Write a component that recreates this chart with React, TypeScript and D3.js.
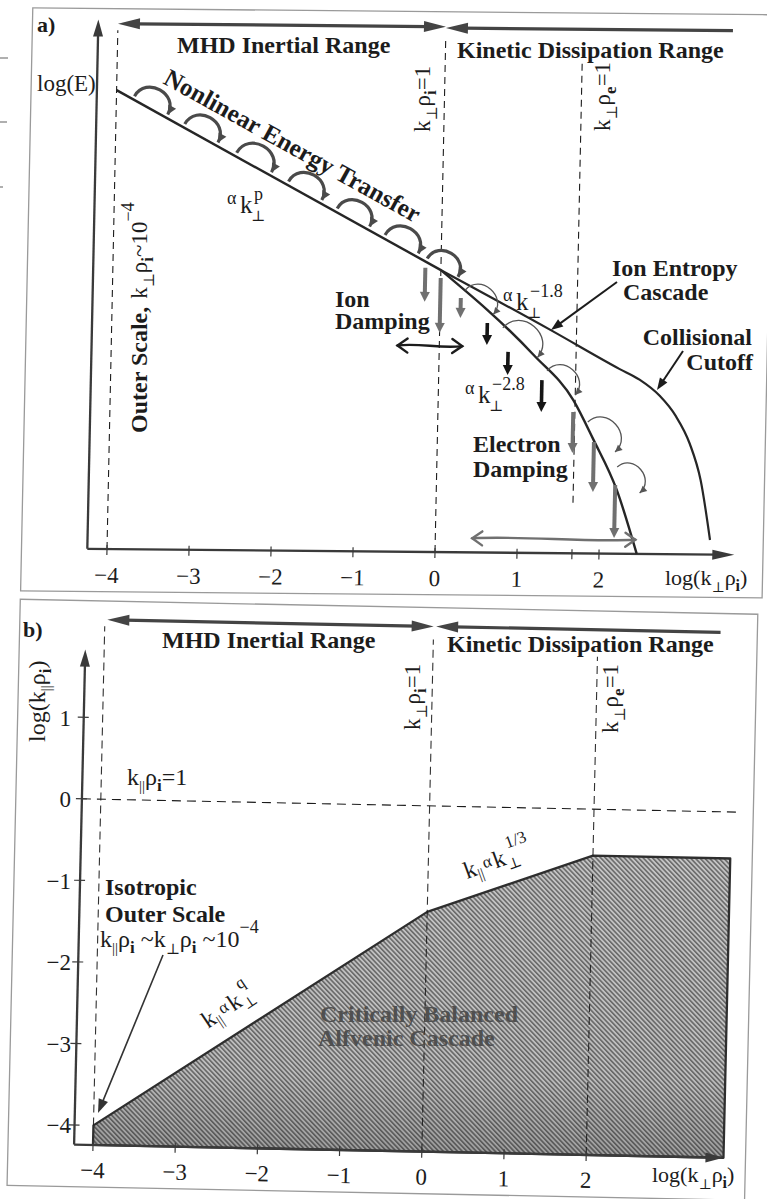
import React from 'react'
import * as d3 from 'd3'

const FONT = '"Liberation Serif", "Times New Roman", "DejaVu Serif", serif'
const INK = '#1c1c1c'
const GREY = '#707070'

// ---------- panel a) energy spectrum: x = log(k⊥ρi), y = log E (arbitrary units above the axis)
const aTicks = [-4, -3, -2, -1, 0, 1, 2]
const aExtraTicks = [1.67]
const aOrigin = [-4.24, 0]
const aAxisEnd = [3.65, 19.9]
const inertialRange = [[-4, 17.25], [0, 10.6]]
const ionEntropyCascade = [
  [0, 10.6], [1.35, 8.39], [2.2, 6.95], [2.45, 6.55], [2.7, 5.95],
  [2.9, 5.2], [3.08, 4.15], [3.22, 2.8], [3.35, 0.55],
]
const electronCascade = [[0, 10.6], [1.15, 7.45], [1.65, 5.75], [1.9, 4.3], [2.2, 2.4], [2.46, 0]]
// curly "nonlinear transfer" arrows: [x0, y0, x1, y1]
const transferArcs = [
  [-3.78, 17.03, -3.37, 16.35],
  [-3.16, 16.0, -2.75, 15.32],
  [-2.52, 14.94, -2.09, 14.22],
  [-1.88, 13.88, -1.47, 13.19],
  [-1.28, 12.88, -0.88, 12.21],
  [-0.69, 11.9, -0.28, 11.22],
  [-0.17, 11.03, 0.21, 10.35],
]
const electronArcs = [
  [0.3, 9.85, 0.65, 8.95],
  [0.77, 8.45, 1.2, 7.35],
  [1.32, 6.85, 1.67, 5.95],
  [1.83, 4.94, 2.17, 3.82],
  [2.2, 3.26, 2.48, 2.29],
]
// damping arrows: [x, yTop, yBottom]
const ionDamping = [[-0.19, 10.68, 9.4], [0, 10.3, 8.24], [0.25, 9.56, 8.81]]
const cascadeLoss = [[0.58, 8.63, 7.8], [0.84, 7.55, 6.68], [1.26, 6.5, 5.3]]
const electronDamping = [[1.65, 5.31, 3.77], [1.91, 4.19, 2.31], [2.18, 2.58, 0.59]]
// dashed scale markers: [x, yFrom, yTo]
const aScaleLines = [[-4, 0, 19.5], [0, 0, 19.4], [1.67, 1.9, 18.55]]
// range arrows: [x0, x1, y, headLeft, headRight]
const aRanges = [[-4, 0, 19.75, true, true], [0, 3.5, 19.7, true, false]]
// horizontal spread arrows: [x0, x1, y, colour]
const aSpreads = [[-0.51, 0.28, 7.75, INK], [0.45, 2.44, 0.53, GREY]]

// ---------- panel b) wavevector anisotropy: x = log(k⊥ρi), y = log(k∥ρi)
const bTicksX = [-4, -3, -2, -1, 0, 1, 2]
const bTicksY = [-4, -3, -2, -1, 0, 1]
const bOrigin = [-4.23, -4.24]
const bAxisEnd = [3.67, 1.83]
const cascadeEdge = [[-4, -4], [0, -1.3], [2, -0.57], [3.67, -0.57]]
const bScaleLines = [[-4, -4, 2.12], [0, -4.24, 2.04], [2, -4.24, 1.87]]
const bIsoLine = [-4.23, 3.74, 0]
const bRanges = [[-3.97, 0, 2.2, true, true], [0.03, 3.49, 2.2, true, false]]

const aSkew = 'matrix(1, 0.0093, -0.0209, 1, 11.47, -0.995)'
const bSkew = 'matrix(1, 0.0203, -0.0226, 1, 25.88, -1.888)'

const minus = (t: number) => String(t).replace('-', '\u2212')

function Head({ x, y, ux, uy, len, hw, fill }: any) {
  const bx = x - ux * len
  const by = y - uy * len
  return <polygon points={`${x},${y} ${bx - uy * hw},${by + ux * hw} ${bx + uy * hw},${by - ux * hw}`} fill={fill} />
}

function Arrow({ x1, y1, x2, y2, len = 10, hw = 5, color = INK, width = 2, start = false, end = true }: any) {
  const L = Math.hypot(x2 - x1, y2 - y1)
  const ux = (x2 - x1) / L
  const uy = (y2 - y1) / L
  const s = start ? len * 0.8 : 0
  const e = end ? len * 0.8 : 0
  return (
    <g>
      <line x1={x1 + ux * s} y1={y1 + uy * s} x2={x2 - ux * e} y2={y2 - uy * e} stroke={color} strokeWidth={width} />
      {end && <Head x={x2} y={y2} ux={ux} uy={uy} len={len} hw={hw} fill={color} />}
      {start && <Head x={x1} y={y1} ux={-ux} uy={-uy} len={len} hw={hw} fill={color} />}
    </g>
  )
}

function CurlArrow({ x1, y1, x2, y2, color, width, len, hw }: any) {
  const dx = x2 - x1
  const dy = y2 - y1
  const L = Math.hypot(dx, dy)
  const nx = dy / L
  const ny = -dx / L
  const h = 0.62 * L
  const d = `M${x1},${y1} C${x1 + nx * h},${y1 + ny * h} ${x2 + nx * h},${y2 + ny * h} ${x2},${y2}`
  return (
    <g>
      <path d={d} fill="none" stroke={color} strokeWidth={width} />
      <Head x={x2} y={y2} ux={-nx} uy={-ny} len={len} hw={hw} fill={color} />
    </g>
  )
}

function Spread({ x1, x2, y, color }: any) {
  const w = x2 - x1
  const chev = (x: number, dir: number) => `M${x + dir * 10},${y - 7} L${x},${y} L${x + dir * 10},${y + 7}`
  return (
    <g fill="none" stroke={color} strokeWidth={2.4} strokeLinecap="round">
      <path d={`M${x1},${y} C${x1 + w / 3},${y - 3} ${x1 + (2 * w) / 3},${y + 3} ${x2},${y}`} />
      <path d={chev(x1, 1)} />
      <path d={chev(x2, -1)} />
    </g>
  )
}

function PowerLaw({ x, y, exp }: any) {
  return (
    <g fontFamily={FONT} fill={INK}>
      <text x={x} y={y - 9} fontSize={18}>α</text>
      <text x={x + 13} y={y} fontSize={25}>k</text>
      <text x={x + 24} y={y + 8} fontSize={15}>⊥</text>
      <text x={x + 27} y={y - 13} fontSize={18}>{exp}</text>
    </g>
  )
}

// k⊥ρ_s = 1 written vertically
function ScaleLabel({ x, y, s }: any) {
  return (
    <text transform={`translate(${x},${y}) rotate(-90)`} fontFamily={FONT} fontSize={23} fill={INK}>
      k<tspan dy={7} fontSize={15}>⊥</tspan>
      <tspan dy={-7}>ρ</tspan>
      <tspan dy={6} fontSize={17} fontWeight="bold">{s}</tspan>
      <tspan dy={-6}>=1</tspan>
    </text>
  )
}

function KLabel({ x, y, size = 22 }: any) {
  return (
    <text x={x} y={y} fontFamily={FONT} fontSize={size} fill={INK}>
      log(k<tspan dy={7} fontSize={14}>⊥</tspan>
      <tspan dy={-7}>ρ</tspan>
      <tspan dy={6} fontSize={16} fontWeight="bold">i</tspan>
      <tspan dy={-6}>)</tspan>
    </text>
  )
}

function Anisotropy({ x, y, angle, exp }: any) {
  return (
    <text transform={`translate(${x},${y}) rotate(${angle})`} fontFamily={FONT} fontSize={24} fill={INK}>
      k<tspan dy={5} fontSize={15}>||</tspan>
      <tspan dx={2} dy={-9} fontSize={17}>α</tspan>
      <tspan dx={2} dy={4}>k</tspan>
      <tspan dy={6} fontSize={15}>⊥</tspan>
      <tspan dx={-9} dy={-21} fontSize={17}>{exp}</tspan>
    </text>
  )
}

export default function App() {
  const xA = d3.scaleLinear().domain([-4, 2]).range([107, 599])
  const yA = d3.scaleLinear().domain([0, 20]).range([549, 17])
  const xB = d3.scaleLinear().domain([-4, 2]).range([93, 586.2])
  const yB = d3.scaleLinear().domain([-4, 1]).range([1125.4, 717.65])

  const lineA = d3.line<number[]>().x(d => xA(d[0])).y(d => yA(d[1]))
  const curveA = d3.line<number[]>().x(d => xA(d[0])).y(d => yA(d[1])).curve(d3.curveMonotoneX)
  const lineB = d3.line<number[]>().x(d => xB(d[0])).y(d => yB(d[1]))
  const region = [...cascadeEdge, [cascadeEdge[cascadeEdge.length - 1][0], bOrigin[1]], [cascadeEdge[0][0], bOrigin[1]]]

  const bold = { fontFamily: FONT, fontWeight: 'bold' as const, fontSize: 24, fill: INK }

  return (
    <svg width={767} height={1199} style={{ position: 'absolute', left: 0, top: 0, background: '#fff' }}>
      <defs>
        <pattern id="hatch" patternUnits="userSpaceOnUse" width={3.4} height={3.4} patternTransform="rotate(-45)">
          <rect width={3.4} height={3.4} fill="#c4c4c4" />
          <line x1={0.8} y1={0} x2={0.8} y2={3.4} stroke="#555" strokeWidth={1.3} />
        </pattern>
        <linearGradient id="shade" x1={0} y1={0} x2={0} y2={1}>
          <stop offset="0" stopColor="#000" stopOpacity={0} />
          <stop offset="0.75" stopColor="#000" stopOpacity={0.04} />
          <stop offset="1" stopColor="#000" stopOpacity={0.2} />
        </linearGradient>
      </defs>

      {/* scan margin marks */}
      <g stroke="#9c9c9c" strokeWidth={1.6}>
        <line x1={0} y1={58} x2={8} y2={58} />
        <line x1={0} y1={122} x2={7} y2={122} />
        <line x1={0} y1={187} x2={3} y2={187} />
      </g>

      {/* ================= panel a ================= */}
      <g transform={aSkew}>
        <rect x={21.5} y={8.7} width={741.5} height={583} fill="none" stroke="#9a9a9a" strokeWidth={1.3} />
        {aScaleLines.map(([x, y0, y1], i) => (
          <line key={i} x1={xA(x)} x2={xA(x)} y1={yA(y0)} y2={yA(y1)} stroke={INK} strokeWidth={1.1} strokeDasharray="7 5" />
        ))}
        {/* axes */}
        <Arrow x1={xA(aOrigin[0])} y1={yA(aOrigin[1])} x2={xA(aOrigin[0])} y2={yA(aAxisEnd[1])} len={17} hw={5} color="#3a3a3a" width={2.3} />
        <Arrow x1={xA(aOrigin[0])} y1={yA(aOrigin[1])} x2={xA(aAxisEnd[0])} y2={yA(aOrigin[1])} len={22} hw={5} color="#3a3a3a" width={2.3} />
        {[...aTicks, ...aExtraTicks].map(t => (
          <line key={t} x1={xA(t)} x2={xA(t)} y1={yA(0) - 4} y2={yA(0) + 6} stroke="#3a3a3a" strokeWidth={1.2} />
        ))}
        {aTicks.map(t => (
          <text key={t} x={xA(t)} y={yA(0) + 34} textAnchor="middle" fontFamily={FONT} fontSize={23} fill={INK}>{minus(t)}</text>
        ))}
        {/* range arrows */}
        {aRanges.map(([x0, x1, y, hl, hr], i) => (
          <Arrow key={i} x1={xA(x0 as number)} y1={yA(y as number)} x2={xA(x1 as number)} y2={yA(y as number)} start={hl} end={hr} len={22} hw={5.5} color="#444" width={3.2} />
        ))}
        {/* spectrum */}
        <path d={lineA(inertialRange)!} fill="none" stroke="#262626" strokeWidth={2.4} />
        <path d={curveA(ionEntropyCascade)!} fill="none" stroke="#262626" strokeWidth={2.2} />
        <path d={curveA(electronCascade)!} fill="none" stroke="#262626" strokeWidth={2.4} />
        {transferArcs.map(([x0, y0, x1, y1], i) => (
          <CurlArrow key={i} x1={xA(x0)} y1={yA(y0)} x2={xA(x1)} y2={yA(y1)} color="#4a4a4a" width={3.2} len={9} hw={4.5} />
        ))}
        {electronArcs.map(([x0, y0, x1, y1], i) => (
          <CurlArrow key={i} x1={xA(x0)} y1={yA(y0)} x2={xA(x1)} y2={yA(y1)} color="#555" width={1.3} len={7} hw={3.5} />
        ))}
        {ionDamping.map(([x, y0, y1], i) => (
          <Arrow key={i} x1={xA(x)} y1={yA(y0)} x2={xA(x)} y2={yA(y1)} len={10} hw={5} color={GREY} width={4} />
        ))}
        {cascadeLoss.map(([x, y0, y1], i) => (
          <Arrow key={i} x1={xA(x)} y1={yA(y0)} x2={xA(x)} y2={yA(y1)} len={10} hw={5} color="#151515" width={3.6} />
        ))}
        {electronDamping.map(([x, y0, y1], i) => (
          <Arrow key={i} x1={xA(x)} y1={yA(y0)} x2={xA(x)} y2={yA(y1)} len={10} hw={5} color={GREY} width={4} />
        ))}
        {aSpreads.map(([x0, x1, y, c], i) => (
          <Spread key={i} x1={xA(x0 as number)} x2={xA(x1 as number)} y={yA(y as number)} color={c} />
        ))}
      </g>

      {/* panel a labels */}
      <text x={37} y={32} {...bold} fontSize={22}>a)</text>
      <text x={37} y={91} fontFamily={FONT} fontSize={23} fill={INK}>log(E)</text>
      <text x={177} y={53} {...bold}>MHD Inertial Range</text>
      <text x={457} y={58} {...bold}>Kinetic Dissipation Range</text>
      <text transform="translate(162,83) rotate(29)" {...bold} fontSize={25}>Nonlinear Energy Transfer</text>
      <PowerLaw x={227} y={213} exp="p" />
      <PowerLaw x={503} y={310} exp="−1.8" />
      <PowerLaw x={465} y={403} exp="−2.8" />
      <text x={335} y={307} {...bold}>Ion</text>
      <text x={335} y={329} {...bold}>Damping</text>
      <text x={473} y={452} {...bold}>Electron</text>
      <text x={473} y={477} {...bold}>Damping</text>
      <text x={612} y={276} {...bold}>Ion Entropy</text>
      <text x={623} y={300} {...bold}>Cascade</text>
      <text x={752} y={345} textAnchor="end" {...bold}>Collisional</text>
      <text x={753} y={370} textAnchor="end" {...bold}>Cutoff</text>
      <Arrow x1={617} y1={282} x2={551} y2={330} len={12} hw={4.5} color={INK} width={2} />
      <Arrow x1={683} y1={351} x2={657} y2={390} len={12} hw={4.5} color={INK} width={2} />
      <text transform="translate(147,433) rotate(-90)" fontFamily={FONT} fontSize={23} fill={INK}>
        <tspan fontWeight="bold" fontSize={24}>Outer Scale,</tspan>
        <tspan dx={8}>k</tspan>
        <tspan dy={7} fontSize={15}>⊥</tspan>
        <tspan dy={-7}>ρ</tspan>
        <tspan dy={6} fontSize={17} fontWeight="bold">i</tspan>
        <tspan dy={-6}>~10</tspan>
        <tspan dy={-13} fontSize={18}>−4</tspan>
      </text>
      <ScaleLabel x={430} y={132} s="i" />
      <ScaleLabel x={610} y={131} s="e" />
      <KLabel x={665} y={585} />

      {/* ================= panel b ================= */}
      <g transform={bSkew}>
        <rect x={8} y={601} width={737.5} height={586} fill="none" stroke="#9a9a9a" strokeWidth={1.3} />
        <path d={lineB(region)! + 'Z'} fill="url(#hatch)" />
        <path d={lineB(region)! + 'Z'} fill="url(#shade)" />
        <path d={lineB(region)! + 'Z'} fill="none" stroke="#2e2e2e" strokeWidth={2.3} strokeLinejoin="round" />
        {bScaleLines.map(([x, y0, y1], i) => (
          <line key={i} x1={xB(x)} x2={xB(x)} y1={yB(y0)} y2={yB(y1)} stroke={INK} strokeWidth={1.1} strokeDasharray="8 5" opacity={0.9} />
        ))}
        <line x1={xB(bIsoLine[0])} x2={xB(bIsoLine[1])} y1={yB(bIsoLine[2])} y2={yB(bIsoLine[2])} stroke={INK} strokeWidth={1.1} strokeDasharray="9 6" />
        <Arrow x1={xB(bOrigin[0])} y1={yB(bOrigin[1])} x2={xB(bOrigin[0])} y2={yB(bAxisEnd[1])} len={17} hw={5} color="#3a3a3a" width={2.3} />
        <Arrow x1={xB(bOrigin[0])} y1={yB(bOrigin[1])} x2={xB(bAxisEnd[0])} y2={yB(bOrigin[1])} len={18} hw={5} color="#3a3a3a" width={2.3} />
        {bTicksX.map(t => (
          <line key={t} x1={xB(t)} x2={xB(t)} y1={yB(bOrigin[1]) - 4} y2={yB(bOrigin[1]) + 6} stroke="#3a3a3a" strokeWidth={1.2} />
        ))}
        {bTicksY.map(t => (
          <line key={t} x1={xB(bOrigin[0]) - 6} x2={xB(bOrigin[0]) + 5} y1={yB(t)} y2={yB(t)} stroke="#3a3a3a" strokeWidth={1.2} />
        ))}
        {bTicksX.map(t => (
          <text key={t} x={xB(t)} y={yB(bOrigin[1]) + 33} textAnchor="middle" fontFamily={FONT} fontSize={23} fill={INK}>{minus(t)}</text>
        ))}
        {bRanges.map(([x0, x1, y, hl, hr], i) => (
          <Arrow key={i} x1={xB(x0 as number)} y1={yB(y as number)} x2={xB(x1 as number)} y2={yB(y as number)} start={hl} end={hr} len={22} hw={5.5} color="#444" width={3.2} />
        ))}
      </g>

      {/* panel b labels */}
      {bTicksY.map(t => (
        <text key={t} x={71} y={yB(t) + 8} textAnchor="end" fontFamily={FONT} fontSize={23} fill={INK}>{minus(t)}</text>
      ))}
      <text x={23} y={637} {...bold} fontSize={22}>b)</text>
      <text x={162} y={648} {...bold}>MHD Inertial Range</text>
      <text x={447} y={652} {...bold}>Kinetic Dissipation Range</text>
      <text transform="translate(45,742) rotate(-90)" fontFamily={FONT} fontSize={24} fill={INK}>
        log(k<tspan dy={6} fontSize={15}>||</tspan>
        <tspan dy={-6}>ρ</tspan>
        <tspan dy={6} fontSize={17} fontWeight="bold">i</tspan>
        <tspan dy={-6}>)</tspan>
      </text>
      <text x={127} y={785} fontFamily={FONT} fontSize={24} fill={INK}>
        k<tspan dy={6} fontSize={15}>||</tspan>
        <tspan dy={-6}>ρ</tspan>
        <tspan dy={6} fontSize={17} fontWeight="bold">i</tspan>
        <tspan dy={-6}>=1</tspan>
      </text>
      <ScaleLabel x={420} y={730} s="i" />
      <ScaleLabel x={618} y={733} s="e" />
      <text x={105} y={895} {...bold}>Isotropic</text>
      <text x={105} y={922} {...bold}>Outer Scale</text>
      <text x={100} y={947} fontFamily={FONT} fontSize={24} fill={INK}>
        k<tspan dy={6} fontSize={15}>||</tspan>
        <tspan dy={-6}>ρ</tspan>
        <tspan dy={6} fontSize={17} fontWeight="bold">i</tspan>
        <tspan dy={-6}> ~k</tspan>
        <tspan dy={7} fontSize={15}>⊥</tspan>
        <tspan dy={-7}>ρ</tspan>
        <tspan dy={6} fontSize={17} fontWeight="bold">i</tspan>
        <tspan dy={-6}> ~10</tspan>
        <tspan dy={-14} fontSize={18}>−4</tspan>
      </text>
      <Arrow x1={163} y1={955} x2={98} y2={1113} len={14} hw={5} color="#333" width={1.6} />
      <Anisotropy x={208} y={1029} angle={-33.8} exp="q" />
      <Anisotropy x={467} y={879} angle={-20} exp="1/3" />
      <text x={320} y={1022} {...bold} fill="#505050">Critically Balanced</text>
      <text x={318} y={1046} {...bold} fill="#505050">Alfvenic Cascade</text>
      <KLabel x={652} y={1182} />
    </svg>
  )
}
